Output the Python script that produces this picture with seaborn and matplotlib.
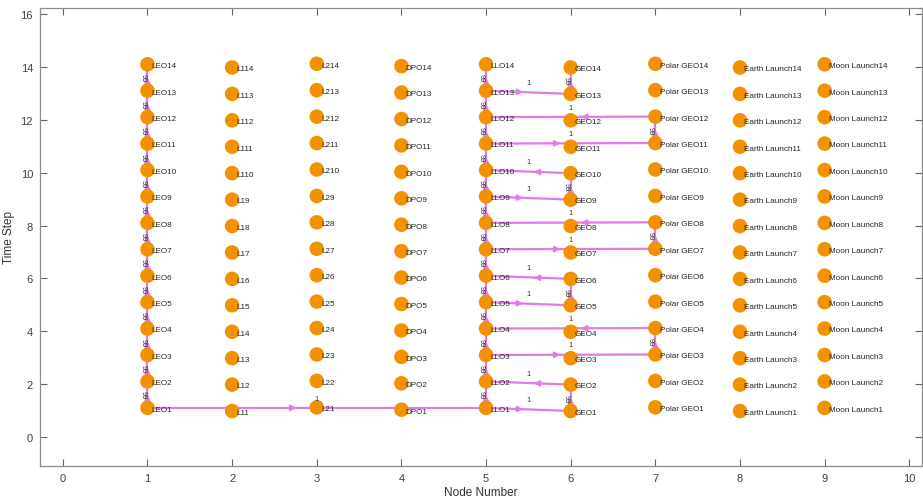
import numpy as np
import pandas as pd
import matplotlib
matplotlib.use("Agg")
import matplotlib.pyplot as plt
import seaborn as sns

# ---------------- data ----------------
node_names = ["LEO", "L1", "L2", "DPO", "LLO", "GEO", "Polar GEO", "Earth Launch", "Moon Launch"]
node_numbers = [1, 2, 3, 4, 5, 6, 7, 8, 9]
time_steps = [1, 2, 3, 4, 5, 6, 7, 8, 9, 10, 11, 12, 13, 14]
# small vertical offset of each column of nodes
column_offsets = [0.10, -0.02, 0.12, 0.03, 0.10, -0.02, 0.12, -0.02, 0.10]

# edges: source node, target node, weight
edge_sources = (
    [f"LEO{t}" for t in range(1, 14)]
    + [f"LLO{t}" for t in range(1, 14)]
    + ["LEO1",
       "LLO1", "GEO1", "GEO2",
       "LLO3", "Polar GEO3", "Polar GEO4",
       "LLO5", "GEO5", "GEO6",
       "LLO7", "Polar GEO7", "Polar GEO8",
       "LLO9", "GEO9", "GEO10",
       "LLO11", "Polar GEO11", "Polar GEO12",
       "LLO13", "GEO13"]
)
edge_targets = (
    [f"LEO{t}" for t in range(2, 15)]
    + [f"LLO{t}" for t in range(2, 15)]
    + ["LLO1",
       "GEO1", "GEO2", "LLO2",
       "Polar GEO3", "Polar GEO4", "LLO4",
       "GEO5", "GEO6", "LLO6",
       "Polar GEO7", "Polar GEO8", "LLO8",
       "GEO9", "GEO10", "LLO10",
       "Polar GEO11", "Polar GEO12", "LLO12",
       "GEO13", "GEO14"]
)
edge_weights = (
    [99] * 13 + [99] * 13
    + [1,
       1, 99, 1,
       1, 99, 1,
       1, 99, 1,
       1, 99, 1,
       1, 99, 1,
       1, 99, 1,
       1, 99]
)

x_ticks = [0, 1, 2, 3, 4, 5, 6, 7, 8, 9, 10]
y_ticks = [0, 2, 4, 6, 8, 10, 12, 14, 16]

# ---------------- build node table ----------------
rows = []
for name, num, off in zip(node_names, node_numbers, column_offsets):
    for t in time_steps:
        rows.append({"label": f"{name}{t}", "node": num, "y": t + off})
nodes = pd.DataFrame(rows)
pos = {r.label: (r.node, r.y) for r in nodes.itertuples()}

# ---------------- figure ----------------
sns.set_theme(style="white")
plt.rcParams["font.family"] = ["Liberation Sans", "DejaVu Sans"]

fig = plt.figure(figsize=(9.23, 5.02), dpi=100)
ax = fig.add_axes([40 / 923, 35 / 502, 882 / 923, 458 / 502])

edge_color = "#E07BEA"
for s, t, w in zip(edge_sources, edge_targets, edge_weights):
    x0, y0 = pos[s]
    x1, y1 = pos[t]
    ax.plot([x0, x1], [y0, y1], color=edge_color, lw=1.6, zorder=1,
            solid_capstyle="butt")
    dx, dy = x1 - x0, y1 - y0
    horizontal = abs(dx) > abs(dy)
    f = 0.44 if horizontal else 0.5
    xm, ym = x0 + f * dx, y0 + f * dy
    L = np.hypot(dx, dy)
    ax.annotate("", xy=(xm, ym),
                xytext=(xm - dx / L * 0.12, ym - dy / L * 0.12 * 26.4 / 84.6 * 3),
                arrowprops=dict(arrowstyle="-|>", color=edge_color, lw=1.2,
                                mutation_scale=9, shrinkA=0, shrinkB=0),
                zorder=2)
    xl, yl = (x0 + x1) / 2, (y0 + y1) / 2
    if horizontal:
        ax.annotate(str(w), (xl, yl), xytext=(0, 4.5), textcoords="offset points",
                    ha="center", va="bottom", fontsize=5.5, color="#333333", zorder=4)
    else:
        ax.annotate(str(w), (xl, yl), xytext=(-3.5, 0), textcoords="offset points",
                    ha="center", va="center", fontsize=5.5, color="#333333",
                    rotation=-90, zorder=4)

sns.scatterplot(data=nodes, x="node", y="y", ax=ax, color="#F39200",
                s=110, edgecolor="none", linewidth=0, zorder=3, legend=False)

for r in nodes.itertuples():
    ax.annotate(r.label, (r.node, r.y), xytext=(3, -1), textcoords="offset points",
                ha="left", va="center", fontsize=5.9, color="#262626", zorder=5)

ax.set_xlim(-0.27, 10.15)
ax.set_ylim(-1.1, 16.23)
ax.set_xticks(x_ticks)
ax.set_yticks(y_ticks)
ax.tick_params(axis="both", direction="in", length=5, width=0.8, colors="#666666",
               labelsize=8, labelcolor="#404040", top=True, right=True, bottom=True, left=True,
               pad=5)
for sp in ax.spines.values():
    sp.set_color("#8c8c8c")
    sp.set_linewidth(0.9)
ax.set_xlabel("Node Number", fontsize=8.5, color="#333333", labelpad=2)
ax.set_ylabel("Time Step", fontsize=8.5, color="#333333", labelpad=4)

fig.savefig("out.png", dpi=100)
